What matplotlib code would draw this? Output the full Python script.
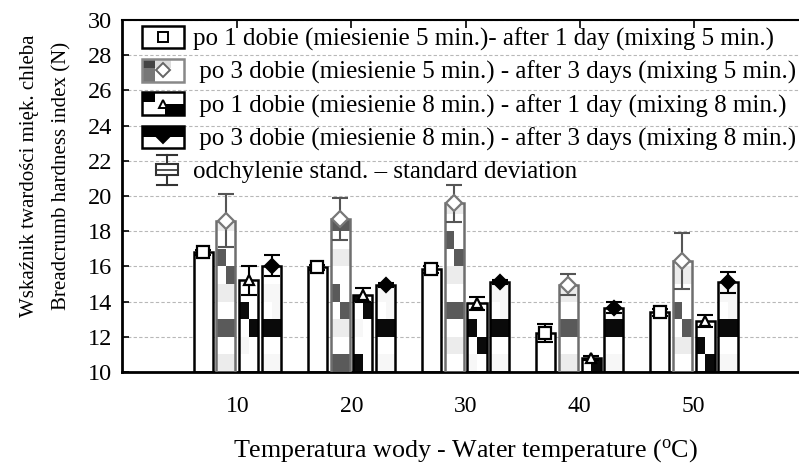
import numpy as np
import matplotlib
matplotlib.use("Agg")
import matplotlib.pyplot as plt
from matplotlib.patches import Rectangle
from matplotlib.lines import Line2D
from matplotlib.legend_handler import HandlerBase

plt.rcParams['font.family'] = ['Liberation Serif', 'DejaVu Serif']

# ---------------- data ----------------
temps = [10, 20, 30, 40, 50]
day1_mix5 = [16.8, 15.95, 15.85, 12.2, 13.4]
day3_mix5 = [18.6, 18.7, 19.6, 14.95, 16.3]
day1_mix8 = [15.2, 14.35, 13.9, 10.8, 12.9]
day3_mix8 = [16.05, 14.95, 15.1, 13.65, 15.1]
sd_day1_mix5 = [0.15, 0.15, 0.2, 0.5, 0.2]
sd_day3_mix5 = [1.5, 1.2, 1.05, 0.6, 1.6]
sd_day1_mix8 = [0.8, 0.4, 0.35, 0.1, 0.35]
sd_day3_mix8 = [0.6, 0.1, 0.1, 0.3, 0.6]
labels = [
    "po 1 dobie (miesienie 5 min.)- after 1 day (mixing 5 min.)",
    " po 3 dobie (miesienie 5 min.) - after 3 days (mixing 5 min.)",
    " po 1 dobie (miesienie 8 min.) - after 1 day (mixing 8 min.)",
    " po 3 dobie (miesienie 8 min.) - after 3 days (mixing 8 min.)",
    "odchylenie stand. \u2013 standard deviation",
]
y_ticks = [10, 12, 14, 16, 18, 20, 22, 24, 26, 28, 30]

# ---------------- styles ----------------
W, L, D, K, F = 'white', '#ececec', '#5a5a5a', '#0a0a0a', '#f7f7f7'
patterns = [
    [(W, W)],
    [(L, L), (W, W), (D, D), (W, W), (L, L), (W, D), (D, W), (W, W)],
    [(W, K), (K, W), (W, W), (F, W)],
    [(F, F), (W, W), (K, K), (W, F)],
]
pattern_shift = [
    [0, 0, 0, 0, 0],
    [0, 2, 7, 0, 3],
    [2, 1, 3, 0, 0],
    [0, 0, 0, 0, 0],
]
edgecols = ['black', '#6e6e6e', 'black', 'black']
markers = [('s', 'white', 'black', 9), ('D', 'white', '#777777', 8),
           ('^', 'white', 'black', 7), ('D', 'black', 'black', 7)]
errcols = ['black', '#555555', 'black', 'black']

fig = plt.figure(figsize=(7.99, 4.63), dpi=100)
ax = fig.add_axes([122 / 799, 91 / 463, 677 / 799, 352 / 463])
ax.set_xlim(-0.11, 59.22)
ax.set_ylim(10, 30)

series = [day1_mix5, day3_mix5, day1_mix8, day3_mix8]
sds = [sd_day1_mix5, sd_day3_mix5, sd_day1_mix8, sd_day3_mix8]
offsets = [-3, -1, 1, 3]
bw = 1.67

ax.set_axisbelow(True)
ax.grid(axis='y', color='#b8b8b8', linestyle=(0, (3, 2)), linewidth=0.8)

x = np.array(temps, dtype=float)
for si, (vals, sd) in enumerate(zip(series, sds)):
    pat = patterns[si]
    for gi, (xc, v) in enumerate(zip(x + offsets[si], vals)):
        nrows = int(np.ceil(v - 10))
        for r in range(nrows):
            bot = 10 + r
            h = min(1.0, v - bot)
            cl, cr = pat[(r + pattern_shift[si][gi]) % len(pat)]
            ax.bar(xc - bw / 4, h, bottom=bot, width=bw / 2, color=cl,
                   edgecolor='none', zorder=2)
            ax.bar(xc + bw / 4, h, bottom=bot, width=bw / 2, color=cr,
                   edgecolor='none', zorder=2)
    ax.bar(x + offsets[si], np.array(vals) - 10, bottom=10, width=bw,
           fill=False, edgecolor=edgecols[si], linewidth=1.8, zorder=3)
    ax.errorbar(x + offsets[si], vals, yerr=sd, fmt='none', ecolor=errcols[si],
                elinewidth=1.5, capsize=6, capthick=1.5, zorder=4)
    m, fc, ec, ms = markers[si]
    ax.plot(x + offsets[si], vals, linestyle='none', marker=m, markersize=ms,
            markerfacecolor=fc, markeredgecolor=ec, markeredgewidth=1.6, zorder=5)

ax.set_xticks(temps)
ax.set_xticklabels([str(t) for t in temps])
ax.set_yticks(y_ticks)
ax.tick_params(axis='x', which='both', top=True, direction='in', length=6,
               width=1.2, pad=17, labelsize=17)
ax.tick_params(axis='x', bottom=False)
ax.tick_params(axis='y', direction='in', length=5, width=1.2, pad=7, labelsize=17.5)
for s in ['left', 'bottom']:
    ax.spines[s].set_linewidth(2.0)
ax.spines['top'].set_linewidth(1.5)
ax.spines['right'].set_visible(False)

fig.text(465 / 799, 6 / 463,
         "Temperatura wody - Water temperature ($\\mathregular{^{o}}$C)",
         ha='center', va='baseline', fontsize=18.7)
fig.text(46 / 799, 1 - 176 / 463,
         "Wskaźnik twardości mięk. chleba\nBreadcrumb hardness index (N)",
         rotation=90, ha='center', va='center', fontsize=15,
         multialignment='center', linespacing=1.9)


# ---------------- legend ----------------
class BoxHandler(HandlerBase):
    def __init__(self, cells, edge, marker):
        super().__init__()
        self.cells = cells
        self.edge = edge
        self.marker = marker

    def create_artists(self, legend, orig_handle, xdescent, ydescent, width,
                       height, fontsize, trans):
        arts = []
        x0, y0 = -xdescent, -ydescent
        for (fx, fy, fw, fh, c) in self.cells:
            arts.append(Rectangle((x0 + fx * width, y0 + fy * height),
                                  fw * width, fh * height, facecolor=c,
                                  edgecolor='none', transform=trans))
        arts.append(Rectangle((x0, y0), width, height, facecolor='none',
                              edgecolor=self.edge, linewidth=1.8, transform=trans))
        m, fc, ec, ms = self.marker
        arts.append(Line2D([x0 + width / 2], [y0 + height / 2], marker=m,
                           markersize=ms, markerfacecolor=fc, markeredgecolor=ec,
                           markeredgewidth=1.4, linestyle='none', transform=trans))
        return arts


class SDHandler(HandlerBase):
    def create_artists(self, legend, orig_handle, xdescent, ydescent, width,
                       height, fontsize, trans):
        x0, y0 = -xdescent, -ydescent
        cx = x0 + width / 2 + 3
        col = '#333333'
        arts = [
            Line2D([cx, cx], [y0 - 3, y0 + height + 3], color=col,
                   linewidth=1.5, transform=trans),
            Line2D([cx - 7, cx + 7], [y0 + height + 3] * 2, color=col,
                   linewidth=1.5, transform=trans),
            Line2D([cx - 7, cx + 7], [y0 - 3] * 2, color=col,
                   linewidth=1.5, transform=trans),
            Rectangle((cx - 8, y0 + height * 0.25), 16, height * 0.5,
                      facecolor='white', edgecolor=col, linewidth=1.5,
                      transform=trans),
            Line2D([cx - 8, cx + 8], [y0 + height * 0.5] * 2, color=col,
                   linewidth=1.2, transform=trans),
        ]
        return arts


handles = [Rectangle((0, 0), 1, 1) for _ in range(5)]
hmap = {
    handles[0]: BoxHandler([], 'black', ('s', 'white', 'black', 7)),
    handles[1]: BoxHandler([(0, 0, 0.3, 1, '#777777'), (0, 0.6, 0.35, 0.4, '#444444'),
                            (0.3, 0.6, 0.4, 0.4, '#dddddd')], '#888888',
                           ('D', 'white', '#666666', 7)),
    handles[2]: BoxHandler([(0, 0.55, 0.3, 0.45, 'black'), (0.55, 0, 0.45, 0.5, 'black')],
                           'black', ('^', 'white', 'black', 6)),
    handles[3]: BoxHandler([(0, 0.5, 1, 0.5, 'black')], 'black',
                           ('D', 'black', 'black', 6)),
    handles[4]: SDHandler(),
}
ax.legend(handles, labels, handler_map=hmap, loc='upper left',
          bbox_to_anchor=(20 / 677, 1 - 6 / 352), frameon=False,
          fontsize=18, handlelength=1.68, handleheight=1.0,
          labelspacing=0.32, handletextpad=0.35, borderpad=0,
          borderaxespad=0)

fig.savefig("out.png", dpi=100)
